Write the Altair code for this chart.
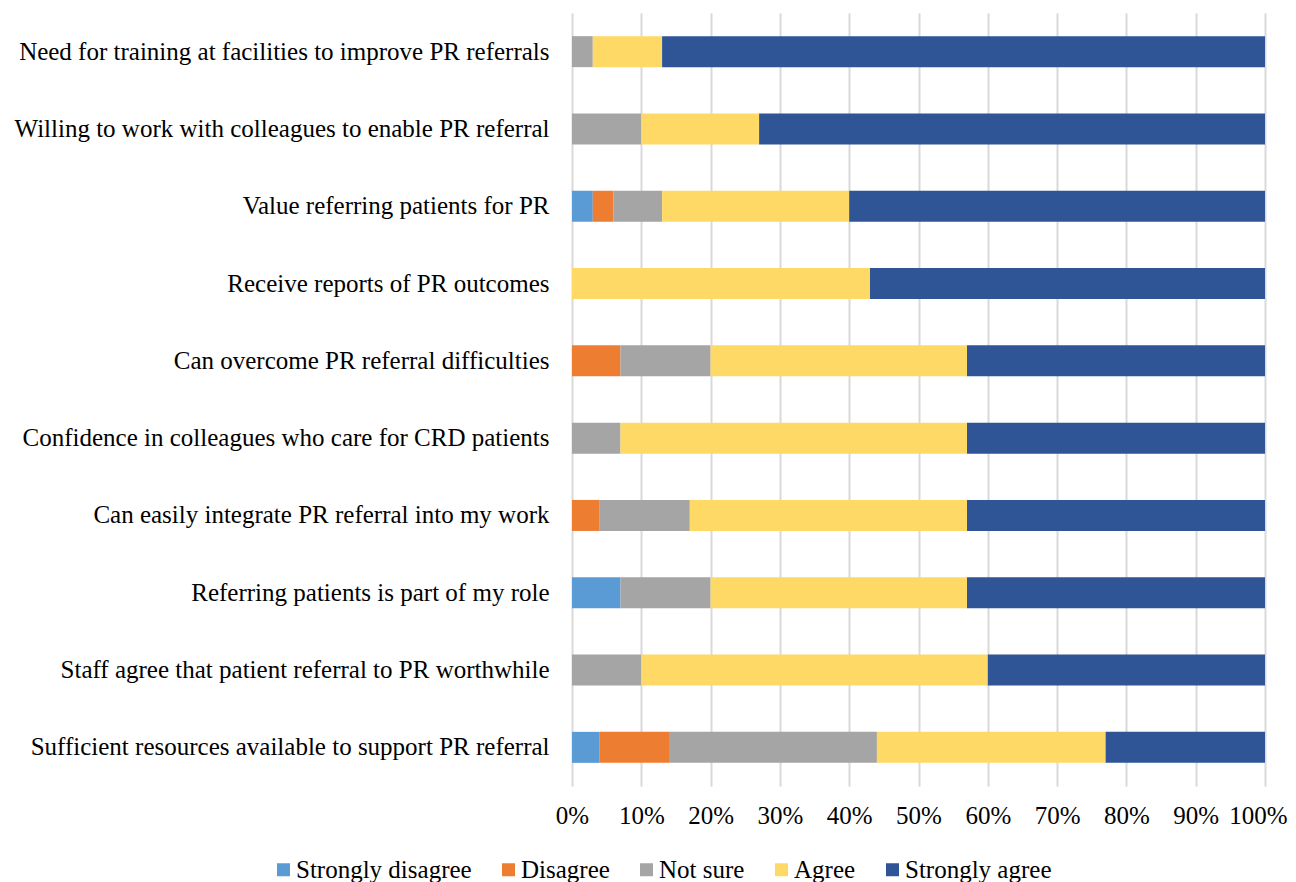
import altair as alt
import pandas as pd

items = [
    "Need for training at facilities to improve PR referrals",
    "Willing to work with colleagues to enable PR referral",
    "Value referring patients for PR",
    "Receive reports of PR outcomes",
    "Can overcome PR referral difficulties",
    "Confidence in colleagues who care for CRD patients",
    "Can easily integrate PR referral into my work",
    "Referring patients is part of my role",
    "Staff agree that patient referral to PR worthwhile",
    "Sufficient resources available to support PR referral",
]
responses = ["Strongly disagree", "Disagree", "Not sure", "Agree", "Strongly agree"]
colors = ["#5B9BD5", "#ED7D31", "#A5A5A5", "#FFD966", "#2F5597"]

strongly_disagree = [0, 0, 3, 0, 0, 0, 0, 7, 0, 4]
disagree = [0, 0, 3, 0, 7, 0, 4, 0, 0, 10]
not_sure = [3, 10, 7, 0, 13, 7, 13, 13, 10, 30]
agree = [10, 17, 27, 43, 37, 50, 40, 37, 50, 33]
strongly_agree = [87, 73, 60, 57, 43, 43, 43, 43, 40, 23]

series = [strongly_disagree, disagree, not_sure, agree, strongly_agree]
rows = []
for r_i, (resp, vals) in enumerate(zip(responses, series)):
    for item, v in zip(items, vals):
        rows.append({"item": item, "response": resp, "order": r_i, "value": v / 100})
df = pd.DataFrame(rows)

FONT = "Liberation Serif"
FS = 25

chart = alt.Chart(df).mark_bar(size=31).encode(
    y=alt.Y("item:N", sort=items, title=None,
            axis=alt.Axis(labelFont=FONT, labelFontSize=FS, labelColor="#000000",
                          labelPadding=23, ticks=False, domain=False, grid=False,
                          labelLimit=0)),
    x=alt.X("value:Q", stack="zero", title=None,
            scale=alt.Scale(domain=[0, 1], nice=False),
            axis=alt.Axis(format=".0%", values=[i / 10 for i in range(11)],
                          labelFont=FONT, labelFontSize=FS, labelColor="#000000",
                          labelPadding=17, ticks=False, domain=False,
                          labelOverlap=False, labelFlush=False,
                          labelOffset={"condition": {"test": "datum.value == 1", "value": -7},
                                       "value": 0},
                          grid=True, gridColor="#D9D9D9", gridWidth=2)),
    color=alt.Color("response:N", sort=responses,
                    scale=alt.Scale(domain=responses, range=colors),
                    legend=alt.Legend(title=None, orient="none", direction="horizontal",
                                      legendX=-301, legendY=844, padding=0,
                                      symbolType="square", symbolSize=169,
                                      symbolStrokeWidth=0, labelFont=FONT,
                                      labelFontSize=FS, labelColor="#000000",
                                      columnPadding=24, labelOffset=0,
                                      labelLimit=0)),
    order=alt.Order("order:Q", sort="ascending"),
).properties(
    width=693, height=773,
    autosize=alt.AutoSizeParams(type="none"),
    padding={"left": 564, "top": 5, "right": 23, "bottom": 100},
).configure_view(stroke=None).configure_scale(bandPaddingInner=0.6)

chart.save("out.html", embed_options={"renderer": "svg", "actions": False})
